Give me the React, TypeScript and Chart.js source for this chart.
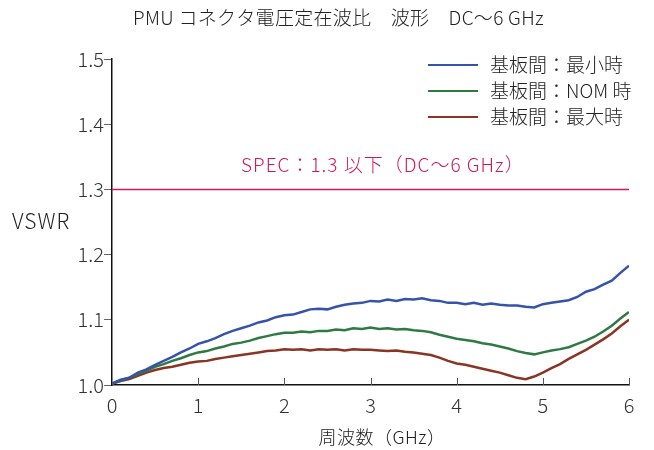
import React, { useEffect, useRef } from "react";
import { Chart, registerables } from "chart.js";

Chart.register(...registerables);

const freqs: number[] = Array.from({ length: 61 }, (_, i) => Math.round(i * 10) / 100);

const minGap: number[] = [
  1.002, 1.008, 1.011, 1.019, 1.024, 1.031, 1.037, 1.043, 1.050, 1.056,
  1.063, 1.067, 1.072, 1.078, 1.083, 1.087, 1.091, 1.096, 1.099, 1.104,
  1.107, 1.108, 1.112, 1.116, 1.117, 1.116, 1.120, 1.123, 1.125, 1.126,
  1.129, 1.128, 1.131, 1.129, 1.132, 1.131, 1.133, 1.130, 1.129, 1.126,
  1.126, 1.124, 1.126, 1.123, 1.125, 1.123, 1.122, 1.122, 1.120, 1.119,
  1.124, 1.126, 1.128, 1.130, 1.135, 1.143, 1.147, 1.154, 1.160, 1.172,
  1.183,
];

const nomGap: number[] = [
  1.002, 1.007, 1.011, 1.017, 1.022, 1.028, 1.032, 1.037, 1.041, 1.046,
  1.050, 1.052, 1.056, 1.059, 1.063, 1.065, 1.068, 1.072, 1.075, 1.078,
  1.080, 1.080, 1.082, 1.081, 1.083, 1.083, 1.085, 1.084, 1.087, 1.086,
  1.088, 1.086, 1.087, 1.085, 1.086, 1.084, 1.083, 1.081, 1.077, 1.074,
  1.071, 1.069, 1.067, 1.064, 1.062, 1.059, 1.056, 1.052, 1.049, 1.047,
  1.050, 1.053, 1.055, 1.058, 1.063, 1.068, 1.074, 1.082, 1.091, 1.102,
  1.112,
];

const maxGap: number[] = [
  1.002, 1.006, 1.009, 1.014, 1.019, 1.023, 1.026, 1.028, 1.031, 1.034,
  1.036, 1.037, 1.040, 1.042, 1.044, 1.046, 1.048, 1.050, 1.052, 1.053,
  1.055, 1.054, 1.055, 1.053, 1.055, 1.054, 1.055, 1.053, 1.055, 1.054,
  1.054, 1.053, 1.052, 1.053, 1.051, 1.050, 1.048, 1.046, 1.042, 1.037,
  1.033, 1.031, 1.028, 1.025, 1.022, 1.019, 1.015, 1.011, 1.009, 1.013,
  1.019, 1.026, 1.032, 1.040, 1.047, 1.054, 1.062, 1.070, 1.079, 1.090,
  1.100,
];

const specValue = 1.3;
const specRange: number[] = [0, 6];
const seriesLabels: string[] = ["基板間：最小時", "基板間：NOM 時", "基板間：最大時"];
const seriesColors: string[] = ["#3553a8", "#2f7a44", "#8a3424"];
const specColor = "#d0185e";
const titleText = "PMU コネクタ電圧定在波比　波形　DC～6 GHz";
const specText = "SPEC：1.3 以下（DC～6 GHz）";
const yTitle = "VSWR";
const xTitle = "周波数（GHz）";

const FONT = '"Noto Sans CJK JP", "Noto Sans", sans-serif';

export default function App() {
  const ref = useRef<HTMLCanvasElement | null>(null);

  useEffect(() => {
    if (!ref.current) return;
    const mk = (ys: number[]) => freqs.map((x, i) => ({ x, y: ys[i] }));

    const overlay = {
      id: "overlay",
      afterDraw(chart: any) {
        const ctx = chart.ctx as any;
        const xs = chart.scales.x;
        const ys = chart.scales.y;
        ctx.save();
        // inner x ticks
        ctx.strokeStyle = "#555";
        ctx.lineWidth = 1;
        for (let v = 1; v <= 6; v++) {
          const px = Math.round(xs.getPixelForValue(v)) + 0.5;
          ctx.beginPath();
          ctx.moveTo(px, ys.bottom);
          ctx.lineTo(px, ys.bottom - 7);
          ctx.stroke();
        }
        ctx.fillStyle = "#222";
        ctx.textBaseline = "middle";
        // title
        ctx.font = `300 19px ${FONT}`;
        ctx.letterSpacing = "0.3px";
        ctx.textAlign = "left";
        ctx.fillText(titleText, 133, 18);
        // y title
        ctx.font = `300 21px ${FONT}`;
        ctx.letterSpacing = "1px";
        ctx.fillText(yTitle, 12, 221);
        // x title
        ctx.font = `300 18px ${FONT}`;
        ctx.letterSpacing = "0.5px";
        ctx.textAlign = "center";
        ctx.fillText(xTitle, 382, 437);
        // legend
        ctx.textAlign = "left";
        ctx.font = `300 19px ${FONT}`;
        ctx.letterSpacing = "0px";
        const ly = [65, 91, 117];
        seriesLabels.forEach((lab, i) => {
          ctx.strokeStyle = seriesColors[i];
          ctx.lineWidth = 2;
          ctx.beginPath();
          ctx.moveTo(428, ly[i]);
          ctx.lineTo(478, ly[i]);
          ctx.stroke();
          ctx.fillStyle = "#222";
          ctx.fillText(lab, 490, ly[i]);
        });
        // spec label
        ctx.fillStyle = specColor;
        ctx.textAlign = "left";
        ctx.font = `300 19px ${FONT}`;
        ctx.letterSpacing = "1px";
        ctx.fillText(specText, 241, 165);
        ctx.restore();
      },
    };

    const chart = new Chart(ref.current, {
      type: "line",
      data: {
        datasets: [
          {
            label: "SPEC",
            data: specRange.map((x) => ({ x, y: specValue })),
            borderColor: specColor,
            borderWidth: 1.5,
            pointRadius: 0,
          },
          {
            label: seriesLabels[0],
            data: mk(minGap),
            borderColor: seriesColors[0],
            borderWidth: 2.5,
            pointRadius: 0,
          },
          {
            label: seriesLabels[1],
            data: mk(nomGap),
            borderColor: seriesColors[1],
            borderWidth: 2.5,
            pointRadius: 0,
          },
          {
            label: seriesLabels[2],
            data: mk(maxGap),
            borderColor: seriesColors[2],
            borderWidth: 2.5,
            pointRadius: 0,
          },
        ],
      },
      options: {
        responsive: false,
        animation: false,
        layout: { padding: { left: 0, right: 25, top: 59, bottom: 0 } },
        plugins: { legend: { display: false }, tooltip: { enabled: false } },
        scales: {
          x: {
            type: "linear",
            min: 0,
            max: 6,
            afterFit: (s: any) => {
              s.height = 65;
            },
            grid: { display: false, drawTicks: false },
            border: { display: true, color: "#111", width: 1.5 },
            ticks: {
              stepSize: 1,
              padding: 8,
              color: "#333",
              font: { family: FONT, size: 20, weight: "300" as any },
            },
          },
          y: {
            type: "linear",
            min: 1.0,
            max: 1.5,
            afterFit: (s: any) => {
              s.width = 112;
            },
            grid: { drawOnChartArea: false, drawTicks: true, tickLength: 8, color: "#666" },
            border: { display: true, color: "#111", width: 1.5 },
            ticks: {
              stepSize: 0.1,
              padding: 0,
              color: "#333",
              font: { family: FONT, size: 20, weight: "300" as any },
              callback: (v: any) => Number(v).toFixed(1),
            },
          },
        },
      },
      plugins: [overlay],
    });
    return () => chart.destroy();
  }, []);

  return (
    <div style={{ position: "absolute", left: 0, top: 0, width: 654, height: 450, background: "#fff" }}>
      <canvas ref={ref} width={654} height={450} style={{ width: 654, height: 450 }} />
    </div>
  );
}
